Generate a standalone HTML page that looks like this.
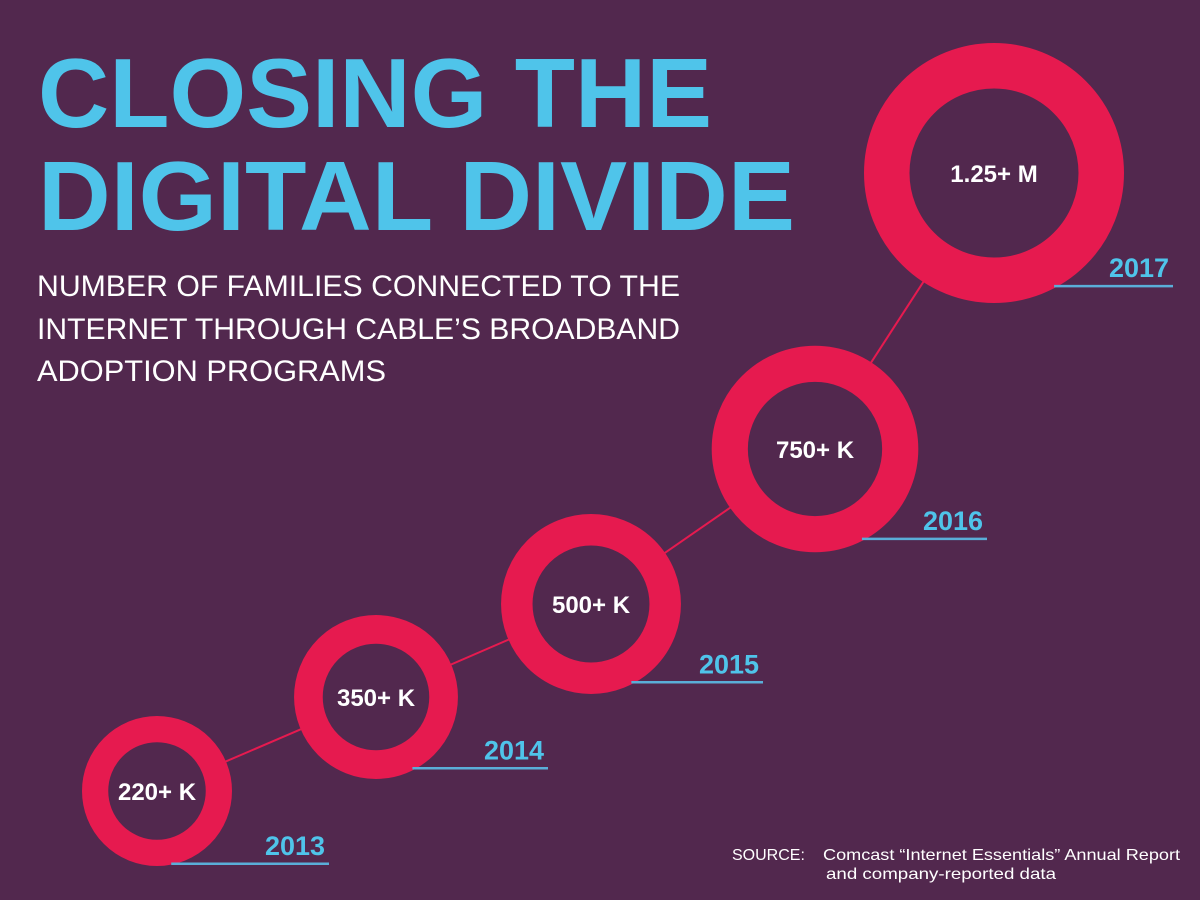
<!DOCTYPE html>
<html><head><meta charset="utf-8"><style>
html,body{margin:0;padding:0;background:#52284e;}
svg{display:block;font-family:"Liberation Sans",sans-serif;}
</style></head><body>
<svg id="chart" width="1200" height="900" viewBox="0 0 1200 900">
<rect width="1200" height="900" fill="#52284e"/>
<g fill="#4fc4ea" font-weight="bold" font-size="98">
<text x="38" y="127" textLength="674" lengthAdjust="spacingAndGlyphs">CLOSING THE</text>
<text x="38" y="230" textLength="757" lengthAdjust="spacingAndGlyphs">DIGITAL DIVIDE</text>
</g>
<g fill="#ffffff" font-size="30">
<text x="37" y="296" textLength="643" lengthAdjust="spacingAndGlyphs">NUMBER OF FAMILIES CONNECTED TO THE</text>
<text x="37" y="339" textLength="643" lengthAdjust="spacingAndGlyphs">INTERNET THROUGH CABLE’S BROADBAND</text>
<text x="37" y="381" textLength="349" lengthAdjust="spacingAndGlyphs">ADOPTION PROGRAMS</text>
</g>
<g id="marks"></g>
<g fill="#ffffff" font-size="16">
<text x="732" y="860">SOURCE:</text>
<text x="823" y="860" textLength="357" lengthAdjust="spacingAndGlyphs">Comcast “Internet Essentials” Annual Report</text>
<text x="826" y="879" textLength="230" lengthAdjust="spacingAndGlyphs">and company-reported data</text>
</g>
</svg>
<script>
const years = ["2013","2014","2015","2016","2017"];
const values = [220, 350, 500, 750, 1250];
const valueLabels = ["220+ K","350+ K","500+ K","750+ K","1.25+ M"];
const xCenters = [157, 376, 591, 815, 994]; // layout per year slot
(function(){
  const NS="http://www.w3.org/2000/svg";
  const g=document.getElementById('marks');
  const yScale=v=>791+(v-220)*(173-791)/(1250-220)+(v>220&&v<1250?-16-(v-350)*0.02:0);
  const rScale=v=>75+(v-220)*(130-75)/(1250-220);
  function mk(t,a){const e=document.createElementNS(NS,t);for(const k in a)e.setAttribute(k,a[k]);return e;}
  const pts=values.map((v,i)=>({x:xCenters[i],y:yScale(v),r:rScale(v)}));
  for(let i=0;i<pts.length-1;i++){
    const l=mk('line',{x1:pts[i].x,y1:pts[i].y,x2:pts[i+1].x,y2:pts[i+1].y,stroke:'#e61a4f','stroke-width':2});
    
    
    g.appendChild(l);
  }
  pts.forEach((p,i)=>{
    const w=p.r*0.35;
    const c=mk('circle',{cx:p.x,cy:p.y,r:p.r-w/2,fill:'#52284e',stroke:'#e61a4f','stroke-width':w});
    
    
    g.appendChild(c);
    const t=mk('text',{x:p.x,y:p.y+9,'text-anchor':'middle',fill:'#fff','font-weight':'bold','font-size':24});
    t.textContent=valueLabels[i];
    
    
    g.appendChild(t);
    const dy=(i===0?0.97:0.87)*p.r;
    const uy=p.y+dy;
    const ux0=p.x+Math.sqrt(Math.max(0,p.r*p.r-dy*dy))-4, ux1=p.x+172+(i===pts.length-1?7:0);
    const u=mk('line',{x1:ux0,y1:uy,x2:ux1,y2:uy,stroke:'#5aaed8','stroke-width':2.5});
    
    
    g.appendChild(u);
    const y=mk('text',{x:ux1-4,y:uy-9,'text-anchor':'end',fill:'#4fc4ea','font-weight':'bold','font-size':27,textLength:60,lengthAdjust:'spacingAndGlyphs'});
    y.textContent=years[i];
    
    
    g.appendChild(y);
  });
})();
</script>
</body></html>
